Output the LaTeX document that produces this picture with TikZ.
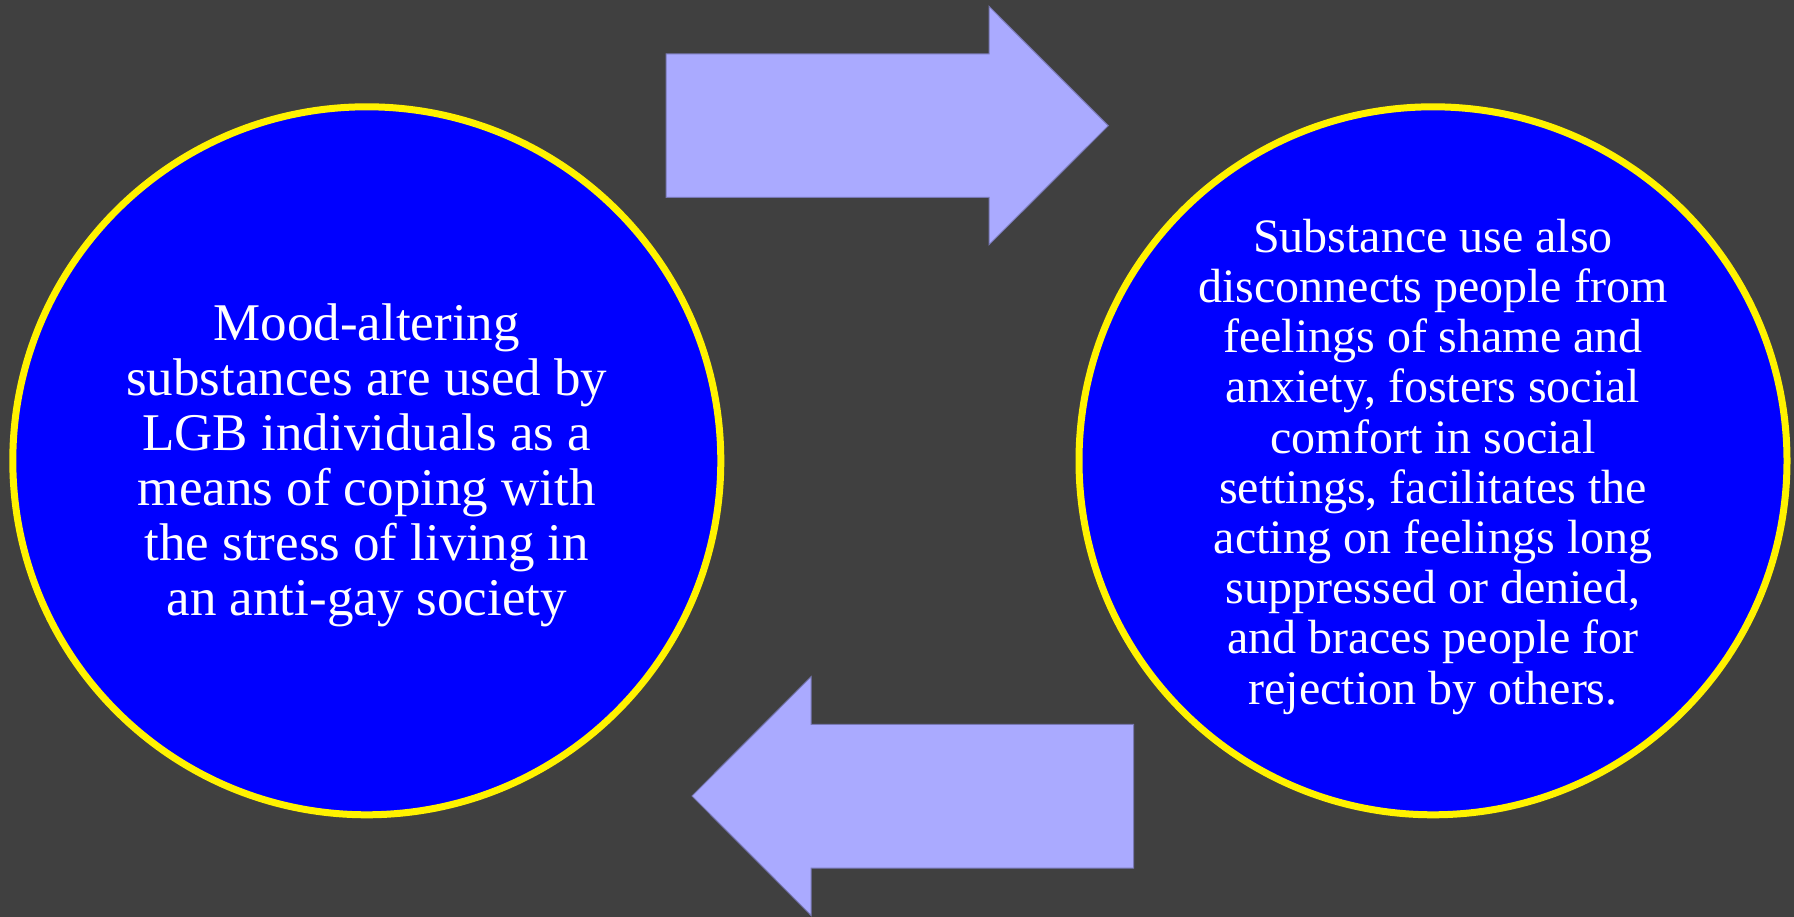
\documentclass[tikz,border=0pt]{standalone}
\usepackage{fontspec}
\setmainfont{Liberation Serif}
\definecolor{slate}{RGB}{64,64,64}
\definecolor{lavender}{RGB}{170,170,255}
\definecolor{lavedge}{RGB}{120,120,180}
\begin{document}
\begin{tikzpicture}[x=1pt,y=-1pt,
  bubble/.style={circle, draw=yellow, fill=blue, line width=7pt, inner sep=0pt, minimum size=708pt},
  bubbletext/.style={text=white, align=center, inner sep=0pt, anchor=north},
  blockarrow/.style={fill=lavender, draw=lavedge, line width=1pt, line join=miter}]
\useasboundingbox (0,0) rectangle (1794,917);
\fill[slate] (0,0) rectangle (1794,917);

% the two cycle stages
\node[bubble] (cope) at (366.8,460.8) {};
\node[bubble] (numb) at (1433,460.8) {};

\node[bubbletext, font=\fontsize{53}{55}\selectfont] (copetext) at (366.8,302)
  {\strut Mood-altering\\ substances are used by\\ LGB individuals as a\\ means of coping with\\
   the stress of living in\\ an anti-gay society\strut};

\node[bubbletext, font=\fontsize{48}{50.2}\selectfont] (numbtext) at (1433,217)
  {\strut Substance use also\\ disconnects people from\\ feelings of shame and\\
   anxiety, fosters social\\ comfort in social\\ settings, facilitates the\\
   acting on feelings long\\ suppressed or denied,\\ and braces people for\\
   rejection by others.\strut};

% block arrows closing the loop
\draw[blockarrow] (666,54) -- (989,54) -- (989,6.3) -- (1108.3,125.7)
  -- (989,244.7) -- (989,197.3) -- (666,197.3) -- cycle;
\draw[blockarrow] (1133.7,724.3) -- (811,724.3) -- (811,676.7) -- (692,796)
  -- (811,915.3) -- (811,868) -- (1133.7,868) -- cycle;
\end{tikzpicture}
\end{document}
